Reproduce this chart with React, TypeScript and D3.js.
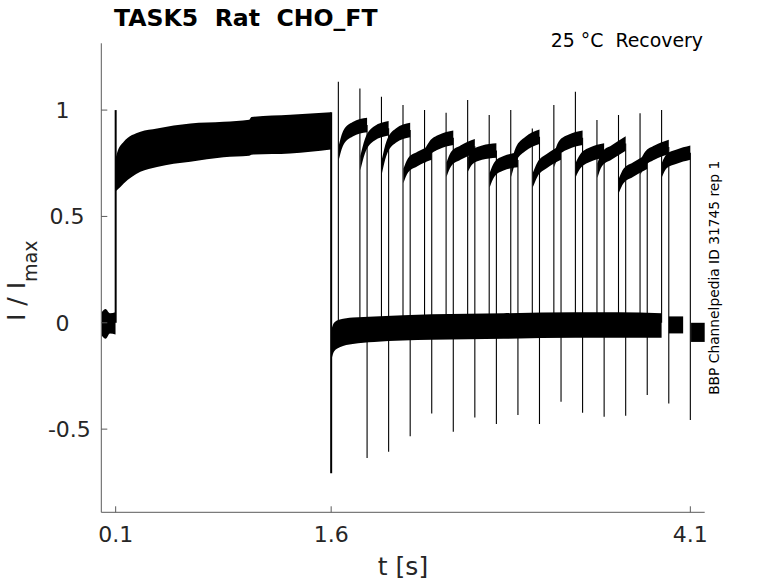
import { area, curveMonotoneX, scaleLinear } from 'd3'

const xTicks = [0.1, 1.6, 4.1]
const yTicks = [-0.5, 0, 0.5, 1]
const yTickLabels = ['-0.5', '0', '0.5', '1']

// holding level before the prepulse (min / max of the noisy band)
const holdT = [0.003, 0.03, 0.06, 0.099]
const holdHi = [0.05, 0.065, 0.045, 0.05]
const holdLo = [-0.06, -0.075, -0.05, -0.055]

// prepulse 0.1 .. 1.6 s
const preT = [0.102, 0.11, 0.156, 0.272, 0.388, 0.62, 0.851, 1.03, 1.045, 1.315, 1.598]
const preHi = [0.78, 0.8, 0.851, 0.898, 0.914, 0.937, 0.945, 0.955, 0.968, 0.978, 0.99]
const preLo = [0.62, 0.624, 0.655, 0.71, 0.733, 0.757, 0.778, 0.785, 0.79, 0.796, 0.815]

// recovery interval at holding potential
const recT = [1.603, 1.62, 1.66, 1.75, 1.9, 2.3, 2.8, 3.3, 3.6, 3.9]
const recHi = [-0.03, 0.0, 0.015, 0.025, 0.03, 0.04, 0.045, 0.05, 0.05, 0.045]
const recLo = [-0.17, -0.135, -0.115, -0.1, -0.09, -0.08, -0.075, -0.07, -0.07, -0.07]

// short tails after the last test pulses
const tailStart = [3.95, 4.105]
const tailEnd = [4.05, 4.2]
const tailHi = [0.03, 0.0]
const tailLo = [-0.05, -0.09]

// steps of the prepulse
const stepT = [0.1, 1.6]
const stepFrom = [0, 0.99]
const stepTo = [1.0, -0.707]

// test pulses
const testStart = [1.65, 1.8, 1.95, 2.1, 2.25, 2.4, 2.55, 2.7, 2.85, 3.0, 3.15, 3.3, 3.45, 3.6, 3.75, 3.9]
const testEnd = [1.85, 2.0, 2.15, 2.3, 2.45, 2.6, 2.75, 2.9, 3.05, 3.2, 3.35, 3.5, 3.65, 3.8, 3.95, 4.1]
const testPeak = [1.133, 1.102, 1.063, 1.024, 1.0, 0.987, 1.047, 0.977, 1.0, 0.914, 1.024, 1.086, 0.953, 0.977, 0.985, 1.0]
const testTrough = [-0.636, -0.606, -0.533, -0.426, -0.512, -0.445, -0.476, -0.434, -0.476, -0.371, -0.423, -0.442, -0.437, -0.34, -0.379, -0.457]
const testFirst = [0.8, 0.75, 0.735, 0.69, 0.785, 0.72, 0.745, 0.67, 0.72, 0.67, 0.765, 0.72, 0.715, 0.645, 0.73, 0.72]
const testEarly = [0.87, 0.83, 0.82, 0.74, 0.82, 0.77, 0.78, 0.72, 0.79, 0.72, 0.82, 0.76, 0.77, 0.69, 0.77, 0.76]
const testMid = [0.91, 0.89, 0.88, 0.77, 0.85, 0.8, 0.8, 0.75, 0.84, 0.76, 0.85, 0.79, 0.8, 0.72, 0.8, 0.78]
const testLast = [0.93, 0.915, 0.906, 0.8, 0.87, 0.83, 0.81, 0.765, 0.875, 0.8, 0.87, 0.81, 0.843, 0.757, 0.827, 0.8]

const width = 778
const height = 583
const plot = { left: 101.3, right: 704.7, top: 43.3, bottom: 512.3 }
const font = '"DejaVu Sans", sans-serif'
const axisColor = '#5a5a5a'
const textColor = '#262626'

type Pt = { t: number; hi: number; lo: number }

export default function App() {
  const x = scaleLinear().domain([0, 4.2]).range([plot.left, plot.right])
  const y = scaleLinear().domain([-0.891, 1.314]).range([plot.bottom, plot.top])

  const band = area<Pt>()
    .x(d => x(d.t))
    .y0(d => y(d.lo))
    .y1(d => y(d.hi))
    .curve(curveMonotoneX)

  const zip = (ts: number[], his: number[], los: number[]) =>
    ts.map((t, i) => ({ t, hi: his[i], lo: los[i] }))

  const bands: Pt[][] = [
    zip(holdT, holdHi, holdLo),
    zip(preT, preHi, preLo),
    zip(recT, recHi, recLo),
    ...tailStart.map((t, i) => zip([t, tailEnd[i]], [tailHi[i], tailHi[i]], [tailLo[i], tailLo[i]])),
  ]

  // noisy band around each test-pulse trace
  const half = 0.034
  const segments: Pt[][] = testStart.map((t, i) => {
    const end = testEnd[i]
    const ts = [t + 0.003, t + 0.035, (t + end) / 2, end]
    const lv = [testFirst[i], testEarly[i], testMid[i], testLast[i]]
    return zip(ts, lv.map(v => v + half), lv.map(v => v - half))
  })

  return (
    <svg
      width={width}
      height={height}
      style={{ position: 'absolute', left: 0, top: 0, background: '#fff' }}
      fontFamily={font}
    >
      <rect width={width} height={height} fill="#fff" />

      {/* trace */}
      <g fill="#000">
        {bands.map((b, i) => (
          <path key={`b${i}`} d={band(b) ?? ''} />
        ))}
        {segments.map((s, i) => (
          <path key={`s${i}`} d={band(s) ?? ''} />
        ))}
      </g>
      <g stroke="#000" strokeWidth={1.1}>
        {testStart.map((t, i) => (
          <line key={`u${i}`} x1={x(t)} x2={x(t)} y1={y(0)} y2={y(testPeak[i])} />
        ))}
        {testEnd.map((t, i) => (
          <line key={`d${i}`} x1={x(t)} x2={x(t)} y1={y(testLast[i])} y2={y(testTrough[i])} />
        ))}
        {stepT.map((t, i) => (
          <line key={`p${i}`} x1={x(t)} x2={x(t)} y1={y(stepFrom[i])} y2={y(stepTo[i])} strokeWidth={2} />
        ))}
      </g>

      {/* axes */}
      <g stroke={axisColor} strokeWidth={1} fill="none">
        <line x1={plot.left} x2={plot.left} y1={plot.top} y2={plot.bottom} />
        <line x1={plot.left} x2={plot.right} y1={plot.bottom} y2={plot.bottom} />
        {yTicks.map(v => (
          <line key={`yt${v}`} x1={plot.left} x2={plot.left + 6} y1={y(v)} y2={y(v)} />
        ))}
        {xTicks.map(v => (
          <line key={`xt${v}`} x1={x(v)} x2={x(v)} y1={plot.bottom} y2={plot.bottom - 6} />
        ))}
      </g>
      <g fill={textColor} fontSize={22}>
        {yTicks.map((v, i) => (
          <text key={`yl${v}`} x={60.2 + 2.3 * yTickLabels[i].length} y={y(v) + 8} textAnchor="middle">
            {yTickLabels[i]}
          </text>
        ))}
        {xTicks.map(v => (
          <text key={`xl${v}`} x={x(v)} y={542} textAnchor="middle">
            {String(v)}
          </text>
        ))}
      </g>

      <text x={(plot.left + plot.right) / 2} y={575} fontSize={25} fill={textColor} textAnchor="middle">
        t [s]
      </text>
      <text transform="translate(25, 321) rotate(-90)" fontSize={25} fill={textColor}>
        {'I / I'}
        <tspan fontSize={19} dy={12}>
          max
        </tspan>
      </text>

      <text x={114} y={26} fontSize={23.6} fontWeight="bold" fill="#000" style={{ whiteSpace: 'pre' }}>
        {'TASK5  Rat  CHO_FT'}
      </text>
      <text x={703} y={47.3} fontSize={18.9} fill="#000" textAnchor="end" style={{ whiteSpace: 'pre' }}>
        {'25 °C  Recovery'}
      </text>
      <text
        transform={`translate(719, ${(plot.top + plot.bottom) / 2}) rotate(-90)`}
        fontSize={13.8}
        fill="#000"
        textAnchor="middle"
      >
        BBP Channelpedia ID 31745 rep 1
      </text>
    </svg>
  )
}
